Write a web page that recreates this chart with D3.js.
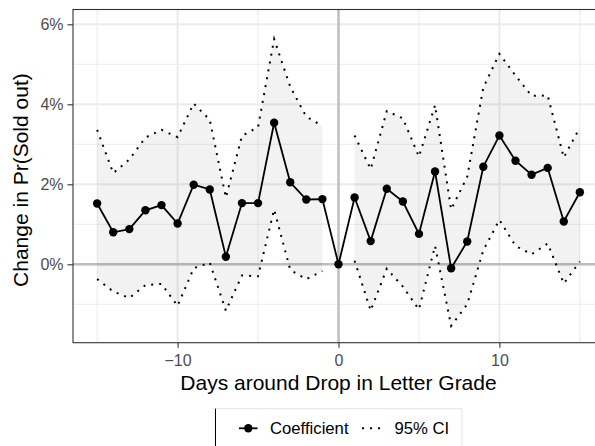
<!DOCTYPE html>
<html><head><meta charset="utf-8">
<script src="https://cdn.jsdelivr.net/npm/d3@7"></script>
<style>body{margin:0;background:#fff}svg{display:block}text{font-family:"Liberation Sans",Arial,Helvetica,sans-serif}</style>
</head><body><svg id="c" width="595" height="446"></svg>
<script>
const days = d3.range(-15, 16);
const coef = [1.52,0.80,0.88,1.35,1.48,1.02,1.99,1.87,0.19,1.53,1.53,3.54,2.05,1.62,1.63,0.00,
              1.67,0.58,1.89,1.57,0.76,2.32,-0.10,0.57,2.44,3.22,2.59,2.24,2.41,1.07,1.80];
const upper = [3.36,2.28,2.62,3.17,3.36,3.18,4.02,3.61,1.67,3.21,3.43,5.63,4.44,3.69,3.46,null,
               3.22,2.38,3.83,3.65,2.69,3.98,1.37,2.19,4.42,5.26,4.72,4.21,4.22,2.67,3.42];
const lower = [-0.37,-0.68,-0.84,-0.52,-0.49,-1.04,-0.10,0.04,-1.16,-0.28,-0.30,1.37,-0.14,-0.37,-0.17,null,
               0.09,-1.16,-0.11,-0.56,-1.13,0.46,-1.54,-1.00,0.35,1.11,0.46,0.25,0.52,-0.48,0.07];
const xTicks = [-10, 0, 10];
const yTicks = [0, 2, 4, 6];
const xMinor = [-15, -5, 5, 15];
const yMinor = [-1, 1, 3, 5];
const xTitle = "Days around Drop in Letter Grade";
const yTitle = "Change in Pr(Sold out)";
const legendLabels = ["Coefficient", "95% CI"];

const data = days.map((d,i)=>({d, c:coef[i], lo:lower[i], hi:upper[i]}));
const svg = d3.select("#c");
const L=73, R=604, T=9.5, B=342.7;
const x = d3.scaleLinear().domain([-16.5,16.5]).range([L,R]);
const y = d3.scaleLinear().domain([-1.96,6.37]).range([B,T]);

const g = svg.append("g");
// grid
g.selectAll(".ymin").data(yMinor).join("line").attr("x1",L).attr("x2",R).attr("y1",d=>y(d)).attr("y2",d=>y(d)).attr("stroke","#EBEBEB").attr("stroke-width",1);
g.selectAll(".xmin").data(xMinor).join("line").attr("y1",T).attr("y2",B).attr("x1",d=>x(d)).attr("x2",d=>x(d)).attr("stroke","#EBEBEB").attr("stroke-width",1);
g.selectAll(".ymaj").data(yTicks).join("line").attr("x1",L).attr("x2",R).attr("y1",d=>y(d)).attr("y2",d=>y(d)).attr("stroke","#EBEBEB").attr("stroke-width",2);
g.selectAll(".xmaj").data(xTicks).join("line").attr("y1",T).attr("y2",B).attr("x1",d=>x(d)).attr("x2",d=>x(d)).attr("stroke","#EBEBEB").attr("stroke-width",2);
// reference lines
g.append("line").attr("x1",L).attr("x2",R).attr("y1",y(0)).attr("y2",y(0)).attr("stroke","#BEBEBE").attr("stroke-width",2.4);
g.append("line").attr("y1",T).attr("y2",B).attr("x1",x(0)).attr("x2",x(0)).attr("stroke","#BEBEBE").attr("stroke-width",2.4);
// ribbon
const area = d3.area().defined(d=>d.lo!==null).x(d=>x(d.d)).y0(d=>y(d.lo)).y1(d=>y(d.hi));
g.append("path").datum(data).attr("d",area).attr("fill","#000").attr("fill-opacity",0.05);
// CI dotted
const lineLo = d3.line().defined(d=>d.lo!==null).x(d=>x(d.d)).y(d=>y(d.lo));
const lineHi = d3.line().defined(d=>d.hi!==null).x(d=>x(d.d)).y(d=>y(d.hi));
[lineLo,lineHi].forEach(l=>g.append("path").datum(data).attr("d",l).attr("fill","none").attr("stroke","#000").attr("stroke-width",2).attr("stroke-dasharray","2,6"));
// coefficient
g.append("path").datum(data).attr("d",d3.line().x(d=>x(d.d)).y(d=>y(d.c))).attr("fill","none").attr("stroke","#000").attr("stroke-width",1.8);
g.selectAll(".pt").data(data).join("circle").attr("cx",d=>x(d.d)).attr("cy",d=>y(d.c)).attr("r",4.2).attr("fill","#000");
// panel border
g.append("rect").attr("x",L).attr("y",T).attr("width",R-L).attr("height",B-T).attr("fill","none").attr("stroke","#333").attr("stroke-width",1.1);

// axes
const xa = svg.append("g").attr("transform",`translate(0,${B})`).call(d3.axisBottom(x).tickValues(xTicks).tickSize(5).tickPadding(3).tickFormat(d=>d<0?"\u2212"+Math.abs(d):d));
const ya = svg.append("g").attr("transform",`translate(${L},0)`).call(d3.axisLeft(y).tickValues(yTicks).tickSize(5.5).tickPadding(4).tickFormat(d=>d+"%"));
[xa,ya].forEach(a=>{a.select(".domain").remove();a.selectAll(".tick line").attr("stroke","#333").attr("stroke-width",1.1);
  a.selectAll("text").attr("fill","#4D4D4D").style("font-size","16px").style("font-family","'Liberation Sans',Arial,sans-serif");});
xa.selectAll("text").attr("dy",null).attr("y",23);
ya.selectAll("text").attr("dy","0.35em");

// titles
svg.append("text").attr("x",(L+R)/2).attr("y",390).attr("text-anchor","middle").style("font-size","21px").attr("fill","#000").text(xTitle);
svg.append("text").attr("transform",`translate(28,${(T+B)/2+4}) rotate(-90)`).attr("text-anchor","middle").style("font-size","21px").attr("fill","#000").text(yTitle);

// legend
const lg = svg.append("g");
lg.append("rect").attr("x",215.5).attr("y",408.7).attr("width",246.5).attr("height",60).attr("fill","#fff").attr("stroke","#E5E5E5").attr("stroke-width",1);
lg.append("line").attr("x1",215.5).attr("x2",215.5).attr("y1",408.7).attr("y2",446).attr("stroke","#000").attr("stroke-width",1);
const ly = 428.3;
lg.append("line").attr("x1",239).attr("x2",257.5).attr("y1",ly).attr("y2",ly).attr("stroke","#000").attr("stroke-width",1.8);
lg.append("circle").attr("cx",248.3).attr("cy",ly).attr("r",4.2).attr("fill","#000");
lg.append("text").attr("x",270).attr("y",ly+6).style("font-size","16.7px").text(legendLabels[0]);
lg.append("line").attr("x1",362).attr("x2",382.5).attr("y1",ly).attr("y2",ly).attr("stroke","#000").attr("stroke-width",2).attr("stroke-dasharray","2,6");
lg.append("text").attr("x",394.5).attr("y",ly+6).style("font-size","16.7px").text(legendLabels[1]);
</script></body></html>
